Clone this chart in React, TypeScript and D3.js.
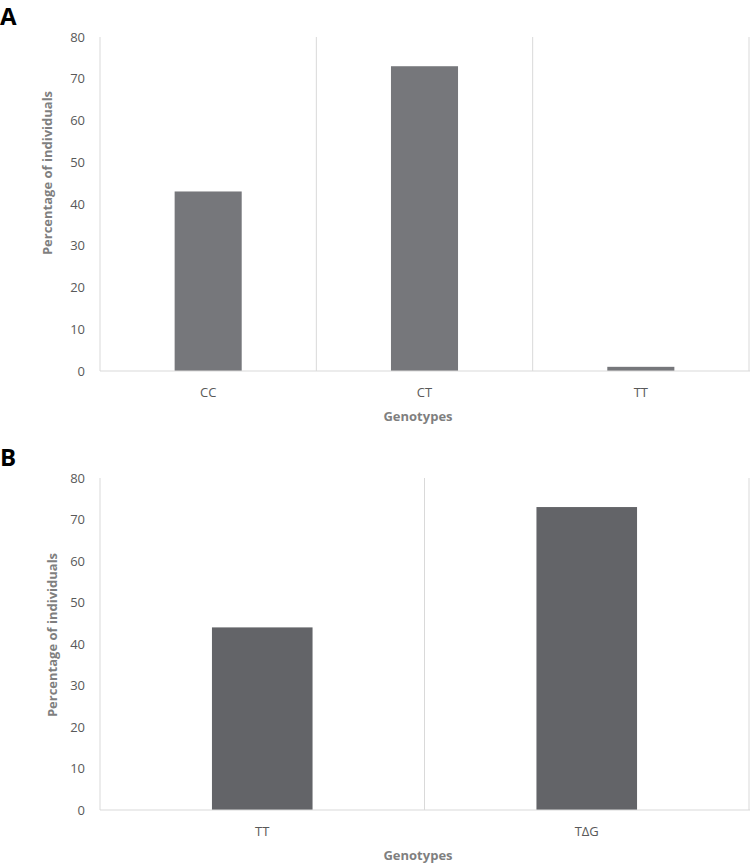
import React, { useEffect, useRef } from 'react';
import * as d3 from 'd3';

const genotypesA = ['CC', 'CT', 'TT'];
const percentA = [43, 73, 1];
const genotypesB = ['TT', 'TΔG'];
const percentB = [44, 73];
const yTicks = [0, 10, 20, 30, 40, 50, 60, 70, 80];

const FONT = '"Open Sans", "DejaVu Sans", sans-serif';

interface PanelSpec {
  label: string,
  cats: string[],
  vals: number[],
  top: number,
  bottom: number,
  barColor: string,
  titleX: number,
  titleY: number,
}

function drawPanel(svg: d3.Selection<SVGSVGElement, unknown, null, undefined>, p: PanelSpec) {
  const left = 100;
  const right = 749;
  const x = d3.scaleBand().domain(p.cats).range([left, right]).padding(0);
  const y = d3.scaleLinear().domain([0, 80]).range([p.bottom, p.top]);
  const g = svg.append('g');

  // panel letter
  g.append('text')
    .attr('x', 0)
    .attr('y', p.top - 12)
    .attr('font-family', FONT)
    .attr('font-weight', 'bold')
    .attr('font-size', 24)
    .attr('fill', '#000')
    .text(p.label);

  // category separators
  g.selectAll('line.sep')
    .data(p.cats)
    .enter()
    .append('line')
    .attr('x1', (d) => (x(d) as number) + x.bandwidth())
    .attr('x2', (d) => (x(d) as number) + x.bandwidth())
    .attr('y1', p.top)
    .attr('y2', p.bottom)
    .attr('stroke', '#d9d9d9')
    .attr('stroke-width', 1);

  // left axis line
  g.append('line')
    .attr('x1', left).attr('x2', left)
    .attr('y1', p.top).attr('y2', p.bottom)
    .attr('stroke', '#d9d9d9');

  // bars
  const bw = x.bandwidth() * 0.31;
  g.selectAll('rect.bar')
    .data(p.vals)
    .enter()
    .append('rect')
    .attr('x', (d, i) => (x(p.cats[i]) as number) + x.bandwidth() / 2 - bw / 2)
    .attr('y', (d) => y(d))
    .attr('width', bw)
    .attr('height', (d) => p.bottom - y(d))
    .attr('fill', p.barColor);

  // bottom axis line
  g.append('line')
    .attr('x1', left).attr('x2', right + 1)
    .attr('y1', p.bottom).attr('y2', p.bottom)
    .attr('stroke', '#d9d9d9');

  // y tick labels
  g.selectAll('text.ytick')
    .data(yTicks)
    .enter()
    .append('text')
    .attr('x', 85)
    .attr('y', (d) => y(d))
    .attr('dy', '0.35em')
    .attr('text-anchor', 'end')
    .attr('font-family', FONT)
    .attr('font-size', 13)
    .attr('fill', '#595959')
    .text((d) => d);

  // x tick labels
  g.selectAll('text.xtick')
    .data(p.cats)
    .enter()
    .append('text')
    .attr('x', (d) => (x(d) as number) + x.bandwidth() / 2)
    .attr('y', p.bottom + 26)
    .attr('text-anchor', 'middle')
    .attr('font-family', FONT)
    .attr('font-size', 13)
    .attr('fill', '#595959')
    .text((d) => d);

  // x title
  g.append('text')
    .attr('x', 418)
    .attr('y', p.bottom + 50)
    .attr('text-anchor', 'middle')
    .attr('font-family', FONT)
    .attr('font-weight', 'bold')
    .attr('font-size', 13)
    .attr('fill', '#7f7f7f')
    .text('Genotypes');

  // y title
  g.append('text')
    .attr('transform', `translate(${p.titleX}, ${p.titleY}) rotate(-90)`)
    .attr('text-anchor', 'middle')
    .attr('dy', '0.35em')
    .attr('font-family', FONT)
    .attr('font-weight', 'bold')
    .attr('font-size', 13)
    .attr('fill', '#7f7f7f')
    .text('Percentage of individuals');
}

export default function App() {
  const ref = useRef<SVGSVGElement>(null);

  useEffect(() => {
    const svg = d3.select(ref.current as SVGSVGElement);
    svg.selectAll('*').remove();
    drawPanel(svg, {
      label: 'A', cats: genotypesA, vals: percentA, top: 37, bottom: 371,
      barColor: '#76777b', titleX: 47, titleY: 173,
    });
    drawPanel(svg, {
      label: 'B', cats: genotypesB, vals: percentB, top: 478, bottom: 810,
      barColor: '#636468', titleX: 52, titleY: 635,
    });
  }, []);

  return (
    <svg
      ref={ref}
      width={750}
      height={865}
      style={{ position: 'absolute', left: 0, top: 0, background: '#fff' }}
    />
  );
}
